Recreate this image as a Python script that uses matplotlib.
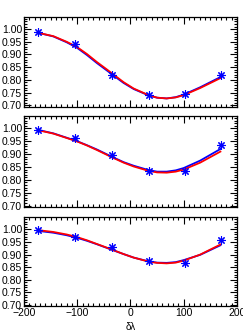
import matplotlib
matplotlib.use("Agg")
import matplotlib.pyplot as plt
from matplotlib.ticker import MultipleLocator, FormatStrFormatter

plt.rcParams['font.family'] = ['Liberation Sans', 'DejaVu Sans']

# observed points (same x in every panel)
x_obs = [-173, -104, -35, 34, 103, 171]
y_obs = [
    [0.990, 0.943, 0.820, 0.740, 0.746, 0.818],
    [0.994, 0.964, 0.897, 0.834, 0.833, 0.937],
]
y_obs.append([0.996, 0.971, 0.931, 0.874, 0.868, 0.958])

# fitted curves
x_fit = [-173, -145, -120, -101, -82, -63, -45, -35, -13, 6, 34, 50, 68, 85, 100, 131, 169]
red_fit = [
    [0.985, 0.972, 0.950, 0.930, 0.902, 0.870, 0.842, 0.826, 0.791, 0.766, 0.740, 0.730, 0.727, 0.731, 0.740, 0.768, 0.807],
    [0.993, 0.980, 0.963, 0.950, 0.934, 0.916, 0.898, 0.888, 0.867, 0.852, 0.835, 0.829, 0.828, 0.832, 0.840, 0.867, 0.910],
    [0.997, 0.990, 0.980, 0.970, 0.957, 0.942, 0.928, 0.920, 0.902, 0.888, 0.872, 0.867, 0.865, 0.868, 0.876, 0.900, 0.940],
]
blue_fit = [
    [0.985, 0.971, 0.948, 0.927, 0.898, 0.866, 0.838, 0.822, 0.788, 0.764, 0.739, 0.730, 0.727, 0.732, 0.742, 0.771, 0.811],
    [0.994, 0.981, 0.964, 0.951, 0.935, 0.918, 0.900, 0.890, 0.869, 0.855, 0.838, 0.832, 0.832, 0.837, 0.846, 0.875, 0.920],
    [0.994, 0.987, 0.977, 0.967, 0.955, 0.941, 0.927, 0.919, 0.902, 0.888, 0.873, 0.868, 0.867, 0.870, 0.878, 0.899, 0.937],
]

fig = plt.figure(figsize=(2.43, 3.32), dpi=100)
boxes = [[0.099, 0.679, 0.876, 0.271],
         [0.099, 0.377, 0.876, 0.274],
         [0.099, 0.078, 0.876, 0.268]]

for i in range(3):
    ax = fig.add_axes(boxes[i])
    ax.plot(x_fit, blue_fit[i], color='blue', lw=1.3)
    ax.plot(x_fit, red_fit[i], color='red', lw=1.3)
    ax.plot(x_obs, y_obs[i], ls='none', marker=(8, 2, 0), ms=6, mew=0.8, color='blue')
    ax.set_xlim(-200, 200)
    ax.set_ylim(0.695, 1.049)
    ax.xaxis.set_major_locator(MultipleLocator(100))
    ax.xaxis.set_minor_locator(MultipleLocator(10))
    ax.yaxis.set_major_locator(MultipleLocator(0.05))
    ax.yaxis.set_minor_locator(MultipleLocator(0.01))
    ax.yaxis.set_major_formatter(FormatStrFormatter('%.2f'))
    ax.tick_params(which='both', direction='in', top=True, right=True, labelsize=7.5, pad=1.5, width=0.8)
    ax.tick_params(which='major', length=5)
    ax.tick_params(which='minor', length=2.5)
    for s in ax.spines.values():
        s.set_linewidth(0.9)
    if i < 2:
        ax.set_xticklabels([])
    else:
        ax.set_xlabel('δλ', fontsize=7, labelpad=3)

fig.savefig('out.png', dpi=100)
